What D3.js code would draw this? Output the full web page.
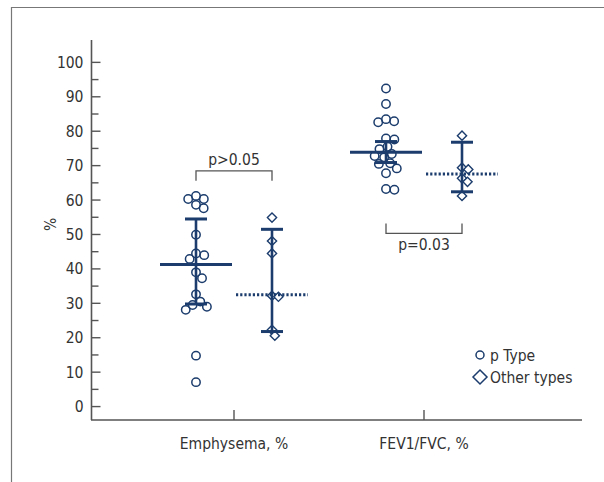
<!DOCTYPE html>
<html>
<head>
<meta charset="utf-8">
<script src="https://cdn.jsdelivr.net/npm/d3@7"></script>
<style>
  body { margin: 0; background: #fff; }
  svg text { font-family: "Liberation Sans Narrow", "DejaVu Sans Condensed", "Arial Narrow", sans-serif; font-stretch: condensed; fill: #333; }
</style>
</head>
<body>
<svg id="chart" width="604" height="482"></svg>
<script>
// ---- data ----
const categories = ["Emphysema, %", "FEV1/FVC, %"];
const groups = ["p Type", "Other types"];

const emphysemaPType = [61.2, 60.3, 60.3, 58.6, 57.6, 49.9, 44.5, 44.0, 42.9, 39.0, 37.3, 32.6, 30.5, 29.5, 29.0, 28.1, 14.8, 7.1];
const emphysemaOther = [54.9, 48.1, 44.5, 32.2, 31.9, 22.3, 20.6];
const fevPType = [92.4, 87.9, 83.5, 82.9, 82.6, 77.9, 77.6, 75.5, 74.8, 73.4, 72.8, 72.4, 70.7, 70.5, 69.2, 67.8, 63.2, 63.0];
const fevOther = [78.7, 69.4, 68.9, 66.3, 65.3, 61.2];

// centre line and whiskers (mean, upper, lower)
const centreValues = [[41.3, 32.5], [73.9, 67.6]];
const upperValues = [[54.5, 51.5], [77.0, 76.8]];
const lowerValues = [[29.8, 21.8], [70.9, 62.4]];

const yTicks = [0, 10, 20, 30, 40, 50, 60, 70, 80, 90, 100];
const brackets = [
    { cat: "Emphysema, %", level: 68.5, leg: 65.6, label: "p>0.05" },
    { cat: "FEV1/FVC, %", level: 50.3, leg: 53.2, label: "p=0.03" }
];

const pointSets = [
    { cat: categories[0], group: groups[0], values: emphysemaPType },
    { cat: categories[0], group: groups[1], values: emphysemaOther },
    { cat: categories[1], group: groups[0], values: fevPType },
    { cat: categories[1], group: groups[1], values: fevOther }
];

// ---- layout ----
const navy = "#1b3c6c";
const axisColor = "#555";
const fontSize = 15.5;
const svg = d3.select("#chart");

const y = d3.scaleLinear().domain([-3.9, 106.5]).range([420, 40]);
const x = d3.scalePoint().domain(categories).range([234, 424]);
const xSub = d3.scalePoint().domain(groups).range([-38, 38]);

// frame
svg.append("path")
    .attr("d", "M11.5,482V7.5H604")
    .attr("fill", "none")
    .attr("stroke", "#777")
    .attr("stroke-width", 1.2);

// y axis with inward ticks
const yAxis = svg.append("g").attr("transform", "translate(91.5,0)");
yAxis.append("line")
    .attr("y1", y(-3.9)).attr("y2", y(106.5))
    .attr("stroke", axisColor).attr("stroke-width", 1.6);
yAxis.selectAll(".major")
    .data(yTicks)
    .join("line")
    .attr("class", "major")
    .attr("x1", 0).attr("x2", 9)
    .attr("y1", d => y(d)).attr("y2", d => y(d))
    .attr("stroke", axisColor).attr("stroke-width", 1.4);
yAxis.selectAll(".minor")
    .data(yTicks.slice(0, -1).map(d => d + 5))
    .join("line")
    .attr("class", "minor")
    .attr("x1", 0).attr("x2", 7)
    .attr("y1", d => y(d)).attr("y2", d => y(d))
    .attr("stroke", axisColor).attr("stroke-width", 1.4);
yAxis.selectAll("text")
    .data(yTicks)
    .join("text")
    .attr("x", -8)
    .attr("y", d => y(d))
    .attr("dy", "0.36em")
    .attr("text-anchor", "end")
    .attr("font-size", fontSize)
    .text(d => d);

svg.append("text")
    .attr("transform", `translate(56,${y(50) - 10}) rotate(-90)`)
    .attr("text-anchor", "middle")
    .attr("font-size", fontSize)
    .text("%");

// x axis
const xAxis = svg.append("g").attr("transform", `translate(0,${y(-3.9)})`);
xAxis.append("line")
    .attr("x1", 91).attr("x2", 582)
    .attr("stroke", axisColor).attr("stroke-width", 1.6);
xAxis.selectAll(".tick")
    .data(categories)
    .join("line")
    .attr("class", "tick")
    .attr("x1", d => x(d)).attr("x2", d => x(d))
    .attr("y1", 0).attr("y2", -10)
    .attr("stroke", axisColor).attr("stroke-width", 1.4);
xAxis.selectAll("text")
    .data(categories)
    .join("text")
    .attr("x", d => x(d))
    .attr("y", 29)
    .attr("text-anchor", "middle")
    .attr("font-size", fontSize)
    .text(d => d);

// dodge points so they do not pile on top of each other
const dodge = (values, minDist) => {
    const placed = [];
    values.forEach(v => {
        const py = y(v);
        const blocked = [];
        placed.forEach(p => {
            const dy = Math.abs(p.y - py);
            if (dy < minDist) {
                const w = Math.sqrt(minDist * minDist - dy * dy);
                blocked.push([p.x - w, p.x + w]);
            }
        });
        const candidates = [0];
        blocked.forEach(b => candidates.push(b[0], b[1]));
        candidates.sort((a, b) => Math.abs(a) - Math.abs(b) || b - a);
        const free = candidates.find(c => blocked.every(b => c <= b[0] + 1e-6 || c >= b[1] - 1e-6));
        placed.push({ v, x: free, y: py });
    });
    return placed;
};

const marks = svg.append("g");
pointSets.forEach(set => {
    const cx = x(set.cat) + xSub(set.group);
    const isCircle = set.group === groups[0];
    const pts = dodge(set.values, isCircle ? 8.4 : 6.5);
    if (isCircle) {
        marks.selectAll(null)
            .data(pts)
            .join("circle")
            .attr("cx", d => cx + d.x)
            .attr("cy", d => d.y)
            .attr("r", 4.2)
            .attr("fill", "none")
            .attr("stroke", navy)
            .attr("stroke-width", 1.5);
    } else {
        marks.selectAll(null)
            .data(pts)
            .join("path")
            .attr("d", "M0,-4.6L4.6,0L0,4.6L-4.6,0Z")
            .attr("transform", d => `translate(${cx + d.x},${d.y})`)
            .attr("fill", "#fff")
            .attr("stroke", navy)
            .attr("stroke-width", 1.4);
    }
});

// centre line and whiskers
const stats = [];
categories.forEach((cat, i) => {
    groups.forEach((g, j) => {
        stats.push({ cat, group: g, centre: centreValues[i][j], upper: upperValues[i][j], lower: lowerValues[i][j] });
    });
});

const statG = svg.append("g").attr("stroke", navy).attr("fill", "none");
stats.forEach(s => {
    const cx = x(s.cat) + xSub(s.group);
    const dotted = s.group === groups[1];
    statG.append("line")
        .attr("x1", cx).attr("x2", cx)
        .attr("y1", y(s.upper)).attr("y2", y(s.lower))
        .attr("stroke-width", 2.6);
    [s.upper, s.lower].forEach(v => {
        statG.append("line")
            .attr("x1", cx - 11).attr("x2", cx + 11)
            .attr("y1", y(v)).attr("y2", y(v))
            .attr("stroke-width", 3);
    });
    statG.append("line")
        .attr("x1", cx - 36).attr("x2", cx + 36)
        .attr("y1", y(s.centre)).attr("y2", y(s.centre))
        .attr("stroke-width", 3)
        .attr("stroke-dasharray", dotted ? "2.2,2" : null);
});

// significance brackets
const br = svg.append("g");
brackets.forEach(b => {
    const x1 = x(b.cat) + xSub(groups[0]);
    const x2 = x(b.cat) + xSub(groups[1]);
    br.append("path")
        .attr("d", `M${x1},${y(b.leg)}V${y(b.level)}H${x2}V${y(b.leg)}`)
        .attr("fill", "none")
        .attr("stroke", "#555")
        .attr("stroke-width", 1.3);
    const above = b.leg < b.level;
    br.append("text")
        .attr("x", (x1 + x2) / 2)
        .attr("y", above ? y(b.level) - 6 : y(b.level) + 17)
        .attr("text-anchor", "middle")
        .attr("font-size", fontSize)
        .text(b.label);
});

// legend
const legend = svg.append("g").attr("transform", "translate(480,355)");
legend.append("circle")
    .attr("cx", 0).attr("cy", 0).attr("r", 4)
    .attr("fill", "none").attr("stroke", navy).attr("stroke-width", 1.5);
legend.append("path")
    .attr("d", "M0,-7L7,0L0,7L-7,0Z")
    .attr("transform", "translate(0,22)")
    .attr("fill", "none").attr("stroke", navy).attr("stroke-width", 1.5);
legend.selectAll("text")
    .data(groups)
    .join("text")
    .attr("x", 10)
    .attr("y", (d, i) => i * 22)
    .attr("dy", "0.36em")
    .attr("font-size", fontSize)
    .text(d => d);
</script>
</body>
</html>
